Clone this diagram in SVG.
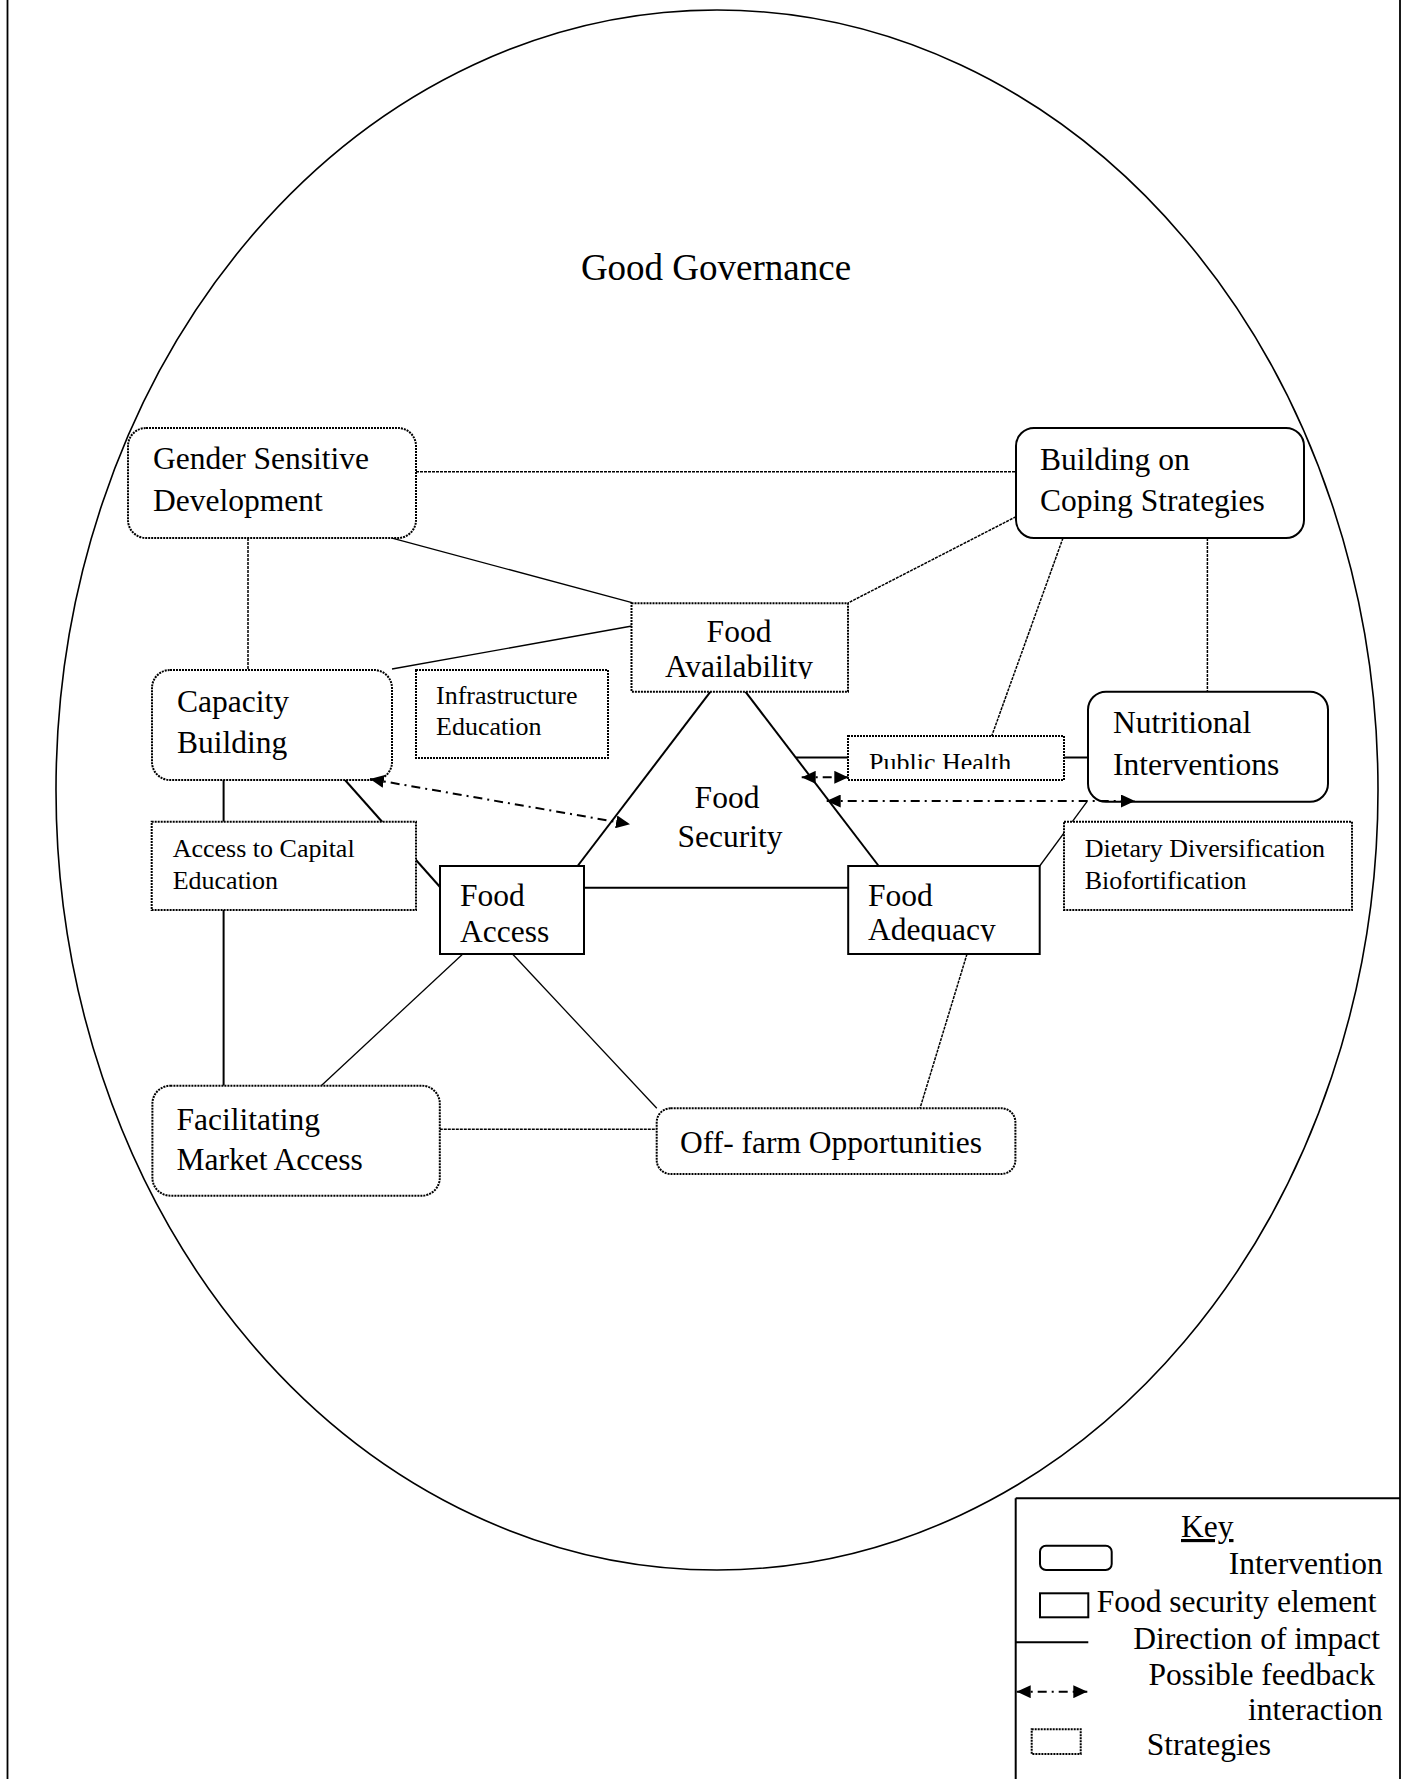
<svg xmlns="http://www.w3.org/2000/svg" width="1407" height="1779" viewBox="0 0 1407 1779">
<style>
text{font-family:"Liberation Serif","Times New Roman",serif;fill:#000}
.t{font-size:31.5px}
.s{font-size:26px}
.g{font-size:37px}
.solid{fill:#fff;stroke:#000;stroke-width:2}
.dot{fill:#fff;stroke:#000;stroke-width:2;stroke-dasharray:2 1}
.ln{stroke:#000;stroke-width:1.3;fill:none}
.lt{stroke:#000;stroke-width:2;fill:none}
.ld{stroke:#000;stroke-width:1.5;fill:none;stroke-dasharray:3 1}
.fb{stroke:#000;stroke-width:2;fill:none;stroke-dasharray:9 5 2 5;marker-start:url(#ah);marker-end:url(#ah)}
</style>
<defs>
<marker id="ah" viewBox="0 0 14 13" refX="14" refY="6.5" markerWidth="14" markerHeight="13" markerUnits="userSpaceOnUse" orient="auto-start-reverse">
<path d="M0,0 L14,6.5 L0,13 z" fill="#000"/>
</marker>
<clipPath id="cAvail"><rect x="632" y="604" width="215" height="75"/></clipPath>
<clipPath id="cPH"><rect x="849" y="737" width="214" height="32"/></clipPath>
<clipPath id="cAdeq"><rect x="849" y="867" width="190" height="74.5"/></clipPath>
</defs>
<rect x="0" y="0" width="1407" height="1779" fill="#fff"/>
<g id="frame">
<line x1="7.5" y1="0" x2="7.5" y2="1779" stroke="#000" stroke-width="1.8"/>
<line x1="1400" y1="0" x2="1400" y2="1779" stroke="#000" stroke-width="1.8"/>
</g>
<g id="governance">
<ellipse cx="717" cy="790" rx="661" ry="780" fill="none" stroke="#000" stroke-width="1.6"/>
<text class="g" x="716" y="280" text-anchor="middle">Good Governance</text>
</g>
<g id="connectors">
<line class="ld" x1="416" y1="471.7" x2="1016" y2="471.7"/>
<line class="ln" x1="393" y1="538.3" x2="632" y2="602.7"/>
<line class="ld" x1="248" y1="538" x2="248" y2="670"/>
<line class="ln" x1="392" y1="669" x2="632" y2="626"/>
<line class="ld" x1="1016" y1="516.7" x2="848" y2="603"/>
<line class="ld" x1="1063" y1="538" x2="991.7" y2="736"/>
<line class="ld" x1="1207.4" y1="538" x2="1207.4" y2="691.7"/>
<line class="lt" x1="710.5" y1="691.7" x2="577.6" y2="866"/>
<line class="lt" x1="745.4" y1="691.7" x2="878.7" y2="866"/>
<line class="lt" x1="796" y1="757.5" x2="848" y2="757.5"/>
<line class="lt" x1="1064" y1="757.5" x2="1088" y2="757.5"/>
<line class="lt" x1="223.6" y1="780" x2="223.6" y2="821.7"/>
<line class="lt" x1="223.6" y1="910" x2="223.6" y2="1085.7"/>
<line class="lt" x1="345" y1="780" x2="440" y2="887"/>
<line class="lt" x1="584" y1="887.7" x2="848" y2="887.7"/>
<line class="ln" x1="462.8" y1="954" x2="321.2" y2="1085.7"/>
<line class="ln" x1="512.5" y1="954" x2="656.8" y2="1108.3"/>
<line class="ld" x1="439.8" y1="1129.3" x2="656.7" y2="1129.3"/>
<line class="ld" x1="967" y1="954" x2="920" y2="1108.3"/>
<line class="ln" x1="1039.7" y1="866" x2="1087" y2="801.7"/>
</g>
<g id="gender">
<rect class="dot" x="128" y="428" width="288" height="110" rx="18"/>
<text class="t" x="153" y="469">Gender Sensitive</text>
<text class="t" x="153" y="511">Development</text>
</g>
<g id="building">
<rect class="solid" x="1016" y="428" width="288" height="110" rx="18"/>
<text class="t" x="1040" y="470">Building on</text>
<text class="t" x="1040" y="511">Coping Strategies</text>
</g>
<g id="capacity">
<rect class="dot" x="152" y="670" width="240" height="110" rx="18"/>
<text class="t" x="177" y="712">Capacity</text>
<text class="t" x="177" y="753">Building</text>
</g>
<g id="infrastructure">
<rect class="dot" x="416" y="670" width="192" height="88"/>
<text class="s" x="436" y="704">Infrastructure</text>
<text class="s" x="436" y="735">Education</text>
</g>
<g id="food-availability">
<rect class="dot" x="631.5" y="603.3" width="216.5" height="88.4"/>
<g clip-path="url(#cAvail)">
<text class="t" x="739" y="641.7" text-anchor="middle">Food</text>
<text class="t" x="739" y="676.7" text-anchor="middle">Availability</text>
</g>
</g>
<g id="nutritional">
<rect class="solid" x="1088" y="691.7" width="240" height="110" rx="18"/>
<text class="t" x="1113" y="733">Nutritional</text>
<text class="t" x="1113" y="775">Interventions</text>
</g>
<g id="public-health">
<rect class="dot" x="848" y="736" width="216" height="44"/>
<text class="s" x="869" y="771" clip-path="url(#cPH)">Public Health</text>
</g>
<g id="food-security">
<text class="t" x="727" y="807.7" text-anchor="middle">Food</text>
<text class="t" x="730" y="846.7" text-anchor="middle">Security</text>
</g>
<g id="access-capital">
<rect class="dot" x="151.7" y="821.7" width="264.3" height="88.3"/>
<text class="s" x="172.7" y="857.3">Access to Capital</text>
<text class="s" x="172.7" y="889.3">Education</text>
</g>
<g id="food-access">
<rect class="solid" x="440" y="866" width="144" height="88"/>
<text class="t" x="460" y="905.7">Food</text>
<text class="t" x="460" y="941.7">Access</text>
</g>
<g id="food-adequacy">
<rect class="solid" x="848.2" y="866" width="191.5" height="88"/>
<g clip-path="url(#cAdeq)">
<text class="t" x="868" y="905.7">Food</text>
<text class="t" x="868" y="940">Adequacy</text>
</g>
</g>
<g id="dietary">
<rect class="dot" x="1064" y="821.7" width="288" height="88.3"/>
<text class="s" x="1084.7" y="856.7">Dietary Diversification</text>
<text class="s" x="1084.7" y="889">Biofortification</text>
</g>
<g id="facilitating">
<rect class="dot" x="152.4" y="1085.7" width="287.4" height="110" rx="18"/>
<text class="t" x="176.5" y="1130">Facilitating</text>
<text class="t" x="176.5" y="1170">Market Access</text>
</g>
<g id="off-farm">
<rect class="dot" x="656.7" y="1108.3" width="358.7" height="65.7" rx="14"/>
<text class="t" x="680" y="1152.7">Off- farm Opportunities</text>
</g>
<g id="feedback">
<line class="fb" x1="370" y1="779" x2="630" y2="824.3"/>
<line class="fb" x1="801.7" y1="777.3" x2="848.3" y2="777.3"/>
<line class="fb" x1="826.7" y1="801" x2="1135" y2="801"/>
</g>
<g id="key">
<line x1="1015.7" y1="1498.3" x2="1400" y2="1498.3" stroke="#000" stroke-width="2"/>
<line x1="1015.7" y1="1498.3" x2="1015.7" y2="1779" stroke="#000" stroke-width="2"/>
<text class="t" x="1181" y="1537" text-decoration="underline">Key</text>
<rect class="solid" x="1040" y="1545.7" width="71.7" height="24.3" rx="6"/>
<text class="t" x="1382.7" y="1574" text-anchor="end">Intervention</text>
<rect class="solid" x="1040" y="1593.3" width="48.3" height="24"/>
<text class="t" x="1096.7" y="1611.5">Food security element</text>
<line class="lt" x1="1015.7" y1="1642.3" x2="1088.3" y2="1642.3"/>
<text class="t" x="1380" y="1648.5" text-anchor="end">Direction of impact</text>
<text class="t" x="1375" y="1685" text-anchor="end">Possible feedback</text>
<line class="fb" x1="1016.7" y1="1691.7" x2="1087.3" y2="1691.7"/>
<text class="t" x="1382.7" y="1720" text-anchor="end">interaction</text>
<rect class="dot" x="1031.7" y="1729.3" width="49" height="24.7"/>
<text class="t" x="1146.7" y="1755">Strategies</text>
</g>
</svg>
